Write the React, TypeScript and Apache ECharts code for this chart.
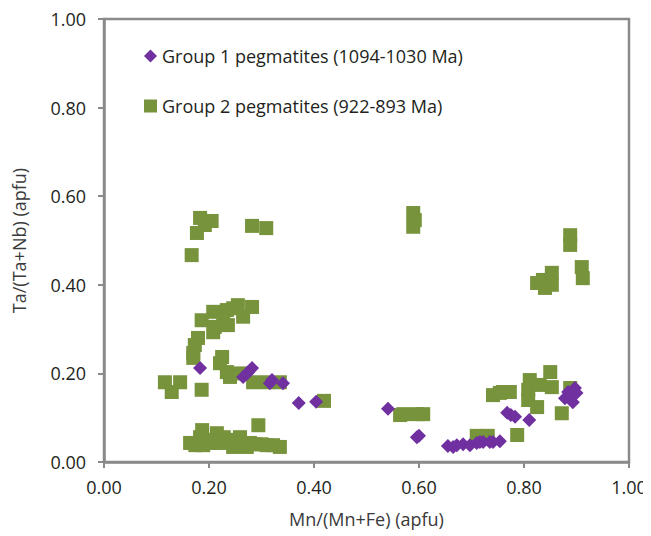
import React, { useEffect, useRef } from "react";
import * as echarts from "echarts";

const xTicks = ["0.00", "0.20", "0.40", "0.60", "0.80", "1.00"];
const yTicks = ["0.00", "0.20", "0.40", "0.60", "0.80", "1.00"];

const group1Name = "Group 1 pegmatites (1094-1030 Ma)";
const group2Name = "Group 2 pegmatites (922-893 Ma)";

const group1X = [0.183, 0.265, 0.272, 0.275, 0.282, 0.316, 0.32, 0.341, 0.371, 0.404, 0.541, 0.596, 0.6, 0.655, 0.665, 0.672, 0.684, 0.697, 0.71, 0.716, 0.722, 0.735, 0.741, 0.754, 0.768, 0.775, 0.783, 0.81, 0.878, 0.884, 0.888, 0.893, 0.897, 0.9];
const group1Y = [0.212, 0.192, 0.199, 0.203, 0.212, 0.178, 0.185, 0.178, 0.133, 0.136, 0.12, 0.056, 0.059, 0.036, 0.034, 0.038, 0.04, 0.038, 0.043, 0.045, 0.045, 0.045, 0.045, 0.047, 0.111, 0.106, 0.102, 0.095, 0.144, 0.158, 0.151, 0.135, 0.167, 0.156];

const group2X = [
  0.183, 0.205, 0.192, 0.177, 0.167, 0.282, 0.309,
  0.282, 0.246, 0.234, 0.208, 0.186, 0.211, 0.236, 0.265, 0.255, 0.227, 0.208,
  0.179, 0.173, 0.17, 0.17,
  0.225, 0.221, 0.234, 0.24, 0.259, 0.284, 0.31, 0.335,
  0.116, 0.145, 0.129, 0.186,
  0.419,
  0.187, 0.164, 0.202, 0.234, 0.259, 0.278, 0.31, 0.335, 0.189, 0.221, 0.246, 0.294, 0.183, 0.215, 0.322, 0.272,
  0.196, 0.228, 0.252, 0.288, 0.3, 0.174,
  0.589, 0.589, 0.592,
  0.564, 0.57, 0.596, 0.608,
  0.71, 0.731,
  0.741, 0.754, 0.76, 0.773,
  0.787,
  0.888, 0.888, 0.91, 0.912,
  0.836, 0.853, 0.825, 0.853, 0.84,
  0.811, 0.85, 0.808, 0.808, 0.825, 0.83, 0.853, 0.888, 0.872,
];
const group2Y = [
  0.551, 0.544, 0.535, 0.517, 0.467, 0.533, 0.528,
  0.35, 0.347, 0.343, 0.339, 0.32, 0.305, 0.309, 0.328, 0.354, 0.325, 0.293,
  0.28, 0.264, 0.246, 0.235,
  0.237, 0.223, 0.203, 0.192, 0.2, 0.18, 0.18, 0.18,
  0.18, 0.18, 0.158, 0.163,
  0.138,
  0.072, 0.043, 0.043, 0.05, 0.056, 0.043, 0.038, 0.034, 0.038, 0.043, 0.034, 0.083, 0.056, 0.065, 0.038, 0.034,
  0.05, 0.056, 0.045, 0.04, 0.04, 0.038,
  0.562, 0.531, 0.546,
  0.106, 0.108, 0.108, 0.108,
  0.059, 0.059,
  0.151, 0.156, 0.158, 0.158,
  0.061,
  0.512, 0.49, 0.44, 0.415,
  0.411, 0.427, 0.404, 0.4, 0.393,
  0.185, 0.203, 0.163, 0.14, 0.124, 0.174, 0.169, 0.167, 0.11,
];

const zip = (xs: number[], ys: number[]) => xs.map((x, i) => [x, ys[i]]);

export default function App() {
  const ref = useRef<HTMLDivElement>(null);
  useEffect(() => {
    if (!ref.current) return;
    const chart = echarts.init(ref.current, null, { renderer: "svg" });
    const font = "'Open Sans', sans-serif";
    const axisGray = "#8a8a8a";
    chart.setOption({
      animation: false,
      textStyle: { fontFamily: font },
      grid: {
        left: 96,
        top: 11,
        width: 525,
        height: 443,
        outerBoundsMode: "none",
        containLabel: false,
        show: true,
        borderColor: axisGray,
        borderWidth: 2.5,
        backgroundColor: "transparent",
      },
      legend: {
        orient: "vertical",
        left: 131,
        top: 34,
        itemGap: 32,
        itemWidth: 13,
        itemHeight: 13,
        textStyle: { fontFamily: font, fontSize: 18, color: "#231f20" },
        data: [
          { name: group1Name, icon: "diamond" },
          { name: group2Name, icon: "rect" },
        ],
      },
      xAxis: {
        type: "value",
        min: 0,
        max: 1,
        interval: 0.2,
        name: "Mn/(Mn+Fe) (apfu)",
        nameLocation: "middle",
        nameGap: 48,
        nameTextStyle: { fontFamily: font, fontSize: 18, color: "#3a3a3a" },
        axisLine: { show: true, lineStyle: { color: axisGray, width: 2.5 } },
        axisTick: { show: true, inside: false, length: 6, lineStyle: { color: axisGray, width: 2 } },
        splitLine: { show: false },
        axisLabel: {
          margin: 16,
          fontFamily: font,
          fontSize: 18,
          color: "#231f20",
          formatter: (v: number) => xTicks[Math.round(v / 0.2)],
        },
      },
      yAxis: {
        type: "value",
        min: 0,
        max: 1,
        interval: 0.2,
        name: "Ta/(Ta+Nb) (apfu)",
        nameLocation: "middle",
        nameGap: 76,
        nameTextStyle: { fontFamily: font, fontSize: 18, color: "#3a3a3a" },
        axisLine: { show: true, lineStyle: { color: axisGray, width: 2.5 } },
        axisTick: { show: true, inside: false, length: 6, lineStyle: { color: axisGray, width: 2 } },
        splitLine: { show: false },
        axisLabel: {
          margin: 18,
          fontFamily: font,
          fontSize: 18,
          color: "#231f20",
          formatter: (v: number) => yTicks[Math.round(v / 0.2)],
        },
      },
      series: [
        {
          name: group1Name,
          type: "scatter",
          symbol: "diamond",
          symbolSize: 14,
          z: 3,
          itemStyle: { color: "#7030a0", opacity: 1 },
          data: zip(group1X, group1Y),
        },
        {
          name: group2Name,
          type: "scatter",
          symbol: "rect",
          symbolSize: 14,
          z: 2,
          itemStyle: { color: "#77933c", opacity: 1 },
          data: zip(group2X, group2Y),
        },
      ],
    });
    return () => chart.dispose();
  }, []);
  return <div ref={ref} style={{ width: 643, height: 528 }} />;
}
